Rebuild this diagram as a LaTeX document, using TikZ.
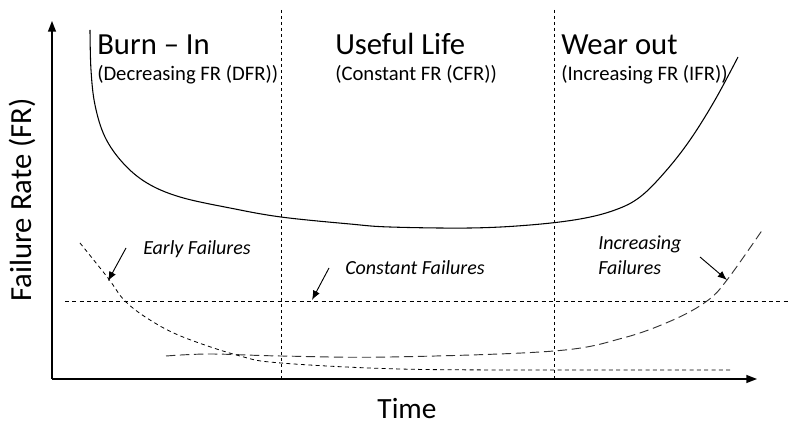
\documentclass[tikz,border=0pt]{standalone}
\usepackage{fontspec}
\setmainfont{Carlito}
\usetikzlibrary{arrows.meta}
\begin{document}
\begin{tikzpicture}[x=0.75pt,y=-0.75pt,
        phase/.style={anchor=base west,inner sep=0pt,font=\fontsize{23}{26}\selectfont},
        phasesub/.style={anchor=base west,inner sep=0pt,font=\fontsize{15.5}{18}\selectfont},
        failtext/.style={anchor=base west,inner sep=0pt,font=\fontsize{15}{18}\selectfont\itshape},
        divider/.style={dash pattern=on 2.5pt off 2pt,line width=0.6pt},
        pointer/.style={-{Latex[length=7pt,width=5.5pt]},line width=0.7pt}]
        \useasboundingbox (0,0) rectangle (790,424);

        \coordinate (origin) at (52,379);
        \coordinate (ytop) at (52,21);
        \coordinate (xend) at (757,379);
        \draw[-{Triangle[length=8pt,width=6pt]},line width=1pt] (origin) -- (ytop);
        \draw[-{Triangle[length=8pt,width=6pt]},line width=1pt] (origin) -- (xend);

        \node[rotate=90,font=\fontsize{23}{26}\selectfont] (ylabel) at (22,200) {Failure Rate (FR)};
        \node[anchor=base,inner sep=0pt,font=\fontsize{22}{24}\selectfont] (xlabel) at (407,418) {Time};

        \draw[divider] (281,10) -- (281,380);
        \draw[divider] (554,10) -- (554,380);

        \node[phase] (burnin) at (97,55) {Burn -- In};
        \node[phasesub] (burninsub) at (97,81) {(Decreasing FR (DFR))};
        \node[phase] (useful) at (335,55) {Useful Life};
        \node[phasesub] (usefulsub) at (335,81) {(Constant FR (CFR))};
        \node[phase] (wearout) at (561,55) {Wear out};
        \node[phasesub] (wearoutsub) at (561,81) {(Increasing FR (IFR))};

        \draw[line width=0.8pt] plot[smooth,tension=0.6] coordinates {(90,30) (91,70) (95,105) (105,137) (123,163) (147,183) (180,197) (230,208) (281,217) (350,224) (390,227) (470,228) (530,225) (580,219) (615,210) (640,197) (665,172) (690,140) (715,100) (738,57)};

        \draw[dash pattern=on 3pt off 2.5pt,line width=0.6pt] (65,301) -- (790,301);
        \draw[dash pattern=on 3pt off 2.5pt,line width=0.6pt] plot[smooth,tension=0.6] coordinates {(80,243) (108,278) (125,301) (150,320) (183,337) (240,356) (281,363) (400,369) (550,370) (733,370)};
        \draw[dash pattern=on 7pt off 3.5pt,line width=0.7pt,black!80] plot[smooth,tension=0.6] coordinates {(166,356) (210,354) (281,356) (390,357) (554,351) (623,338) (673,320) (707,301) (727,280) (763,229)};

        \node[failtext] (early) at (143,255) {Early Failures};
        \node[failtext] (constant) at (345,275) {Constant Failures};
        \node[failtext] (increasing) at (598,250) {Increasing};
        \node[failtext] (increasing2) at (598,275) {Failures};

        \coordinate (earlytail) at (126,248);
        \coordinate (earlyhead) at (108,281);
        \coordinate (constanttail) at (329,268);
        \coordinate (constanthead) at (312,300);
        \coordinate (increasingtail) at (700,257);
        \coordinate (increasinghead) at (727,280);
        \draw[pointer] (earlytail) -- (earlyhead);
        \draw[pointer] (constanttail) -- (constanthead);
        \draw[pointer] (increasingtail) -- (increasinghead);

    \end{tikzpicture}
\end{document}
